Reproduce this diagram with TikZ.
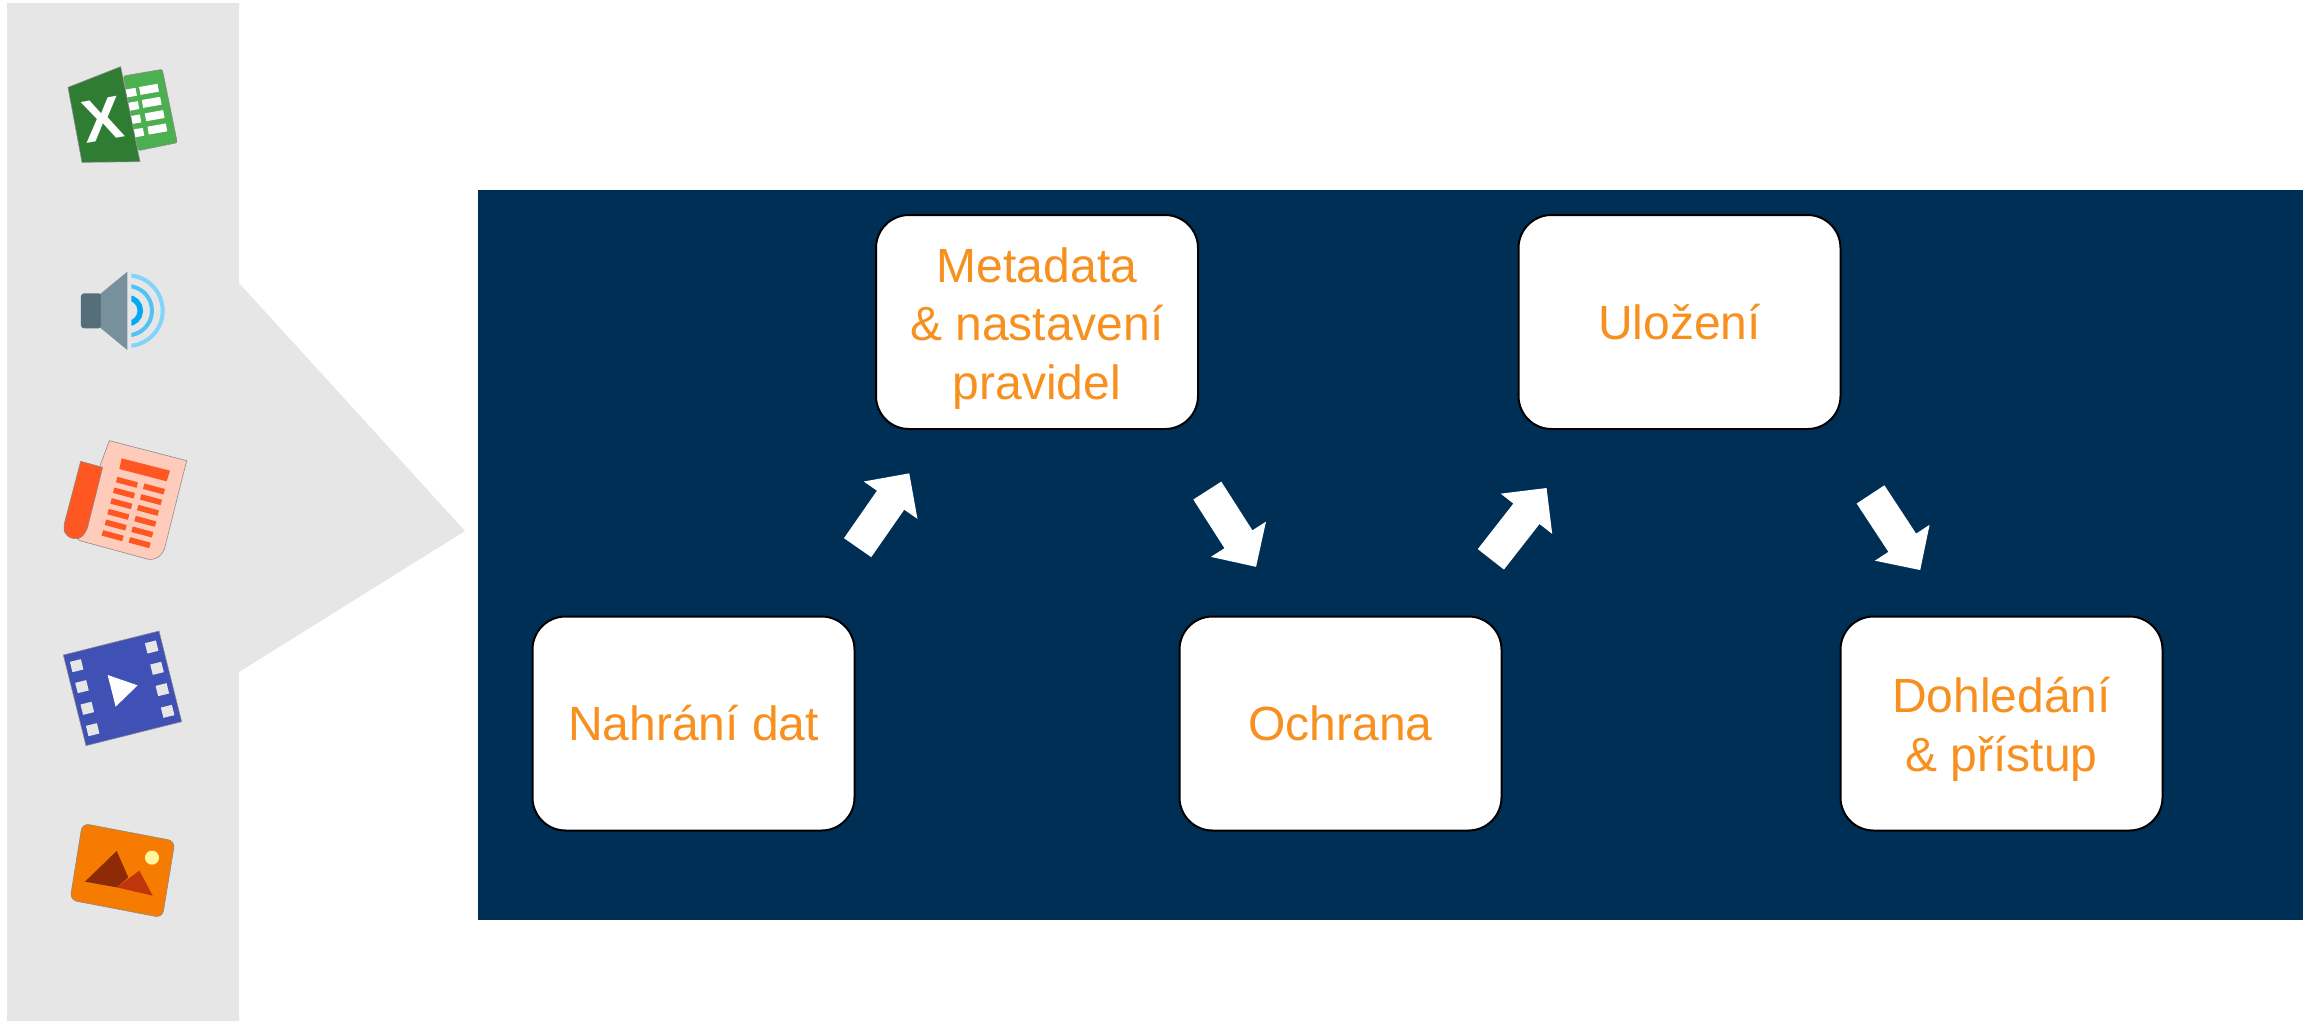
\documentclass[tikz,border=0pt]{standalone}
\usepackage{fontspec}
\setmainfont{Liberation Sans}
\usepackage{color}
\usetikzlibrary{shapes.arrows}
\definecolor{navy}{HTML}{002F56}
\definecolor{panel}{HTML}{E6E6E6}
\definecolor{labelorange}{HTML}{F7901E}
\definecolor{xlback}{HTML}{4CAF50}
\definecolor{xlfront}{HTML}{2E7D32}
\definecolor{speakdark}{HTML}{546E7A}
\definecolor{speaklight}{HTML}{78909C}
\definecolor{paperpink}{HTML}{FFCCBC}
\definecolor{paperred}{HTML}{FF5722}
\definecolor{filmblue}{HTML}{3F51B5}
\definecolor{photoorange}{HTML}{F57C00}
\definecolor{photodark}{HTML}{8E2A05}
\definecolor{photomid}{HTML}{BF360C}
\definecolor{photosun}{HTML}{FFF59D}
\newcommand{\toppad}{\rule{0pt}{47pt}}
\tikzset{
  stagebox/.style={draw=black,line width=2pt,fill=white,rounded corners=33pt,minimum width=322pt,minimum height=214pt,inner sep=0pt,align=center,text=labelorange,font=\fontsize{48}{58.5}\selectfont},
  flowarrow/.style={single arrow,fill=white,inner sep=16.4pt,outer sep=0pt,minimum height=90.5pt,single arrow head extend=16.1pt,single arrow tip angle=90},
  iconedge/.style={draw=black!45,line width=.6pt}
}
\begin{document}
\begin{tikzpicture}[x=1pt,y=-1pt]
                      \useasboundingbox(0,0)rectangle(2313,1021);
                      \fill[panel](7,3)--(239,3)--(239,283)--(465,531)--(239,672)--(239,1021)--(7,1021)--cycle;
                      \fill[navy](478,190)rectangle(2303,920);
                      \node[stagebox](upload)at(693.5,723.5){Nahrání dat};
                      \node[stagebox](meta)at(1037,322){\toppad Metadata\\\& nastavení\\pravidel};
                      \node[stagebox](protect)at(1340.5,723.5){Ochrana};
                      \node[stagebox](store)at(1679.5,322){Uložení};
                      \node[stagebox](access)at(2001.5,723.5){\toppad Dohledání\\\& přístup};
                      \node[flowarrow,rotate=55.2](uptometa)at(878.7,517.3){};
                      \node[flowarrow,rotate=-57.4](metatoprot)at(1227.2,521.7){};
                      \node[flowarrow,rotate=52](prottostore)at(1513.6,530.2){};
                      \node[flowarrow,rotate=-56.7](storetoacc)at(1890.8,525.3){};
                      \begin{scope}[scale=1/3]
                        \fill[xlback,iconedge,rounded corners=2pt](370,228)--(487,208)--(532,428)--(415,452)--cycle;
                        \foreach \x/\y in {393/278,400/318,406/358,415/398} \fill[white,shift={(\x,\y)},rotate=10](-16,-12)rectangle(16,12);
                        \foreach \x/\y in {447/268,455/307,464/347,472/387} \fill[white,shift={(\x,\y)},rotate=10](-28,-12)rectangle(28,12);
                        \fill[xlfront,iconedge](204,262)--(362,200)--(420,485)--(246,487)--cycle;
                        \node[text=white,font=\fontsize{60}{60}\selectfont\bfseries,rotate=10,inner sep=0pt](xlmark)at(308,358){X};
                        \fill[speakdark,rounded corners=3pt](305,880)--(243,880)--(243,985)--(305,985)--cycle;
                        \fill[speaklight](303,880)--(382,815)--(382,1050)--(303,985)--cycle;
                        \begin{scope}
                          \clip(394,800)rectangle(520,1060);
                          \draw[color={rgb,255:red,129;green,212;blue,250},line width=4pt](382,932)circle[radius=106];
                          \draw[color={rgb,255:red,79;green,195;blue,247},line width=4pt](382,932)circle[radius=74];
                          \draw[color={rgb,255:red,3;green,169;blue,244},line width=5.5pt](382,932)circle[radius=39];
                        \end{scope}
                        \fill[paperpink,iconedge](328,1322)--(560,1382)[rounded corners=6pt]--(490,1660)--(460,1682)--(225,1618)[rounded corners=0pt]--(262,1500)--cycle;
                        \fill[paperred,iconedge](242,1384)--(308,1402)--(262,1585)[rounded corners=5pt]--(248,1612)--(222,1619)--(196,1605)--(190,1582)[rounded corners=0pt]--cycle;
                        \fill[paperred](365,1375)--(510,1412)--(500,1444)--(358,1407)--cycle;
                        \foreach \x/\y in {381/1447,372/1479,364/1511,355/1543,347/1575,338/1607,462/1467,453/1499,444/1531,436/1564,427/1596,419/1628} \fill[paperred,shift={(\x,\y)},rotate=-15](-32,-8.5)rectangle(32,8.5);
                        \fill[filmblue,iconedge](190,1965)--(477,1893)--(545,2165)--(258,2237)--cycle;
                        \foreach \x/\y in {230/1997,246/2060,262/2125,278/2189,455/1941,471/2005,487/2069,503/2134} \fill[panel,shift={(\x,\y)},rotate=14](-17,-16)rectangle(17,16);
                        \fill[white](323,2025)--(413,2056)--(347,2120)--cycle;
                        \fill[photoorange,iconedge,rounded corners=7pt](247,2470)--(525,2523)--(487,2753)--(210,2700)--cycle;
                        \fill[photodark](255,2645)--(350,2553)--(385,2632)--(350,2662)--cycle;
                        \fill[photomid](350,2662)--(418,2612)--(458,2687)--cycle;
                        \fill[photosun](456,2573)circle[radius=21];
                      \end{scope}
\end{tikzpicture}
\end{document}
